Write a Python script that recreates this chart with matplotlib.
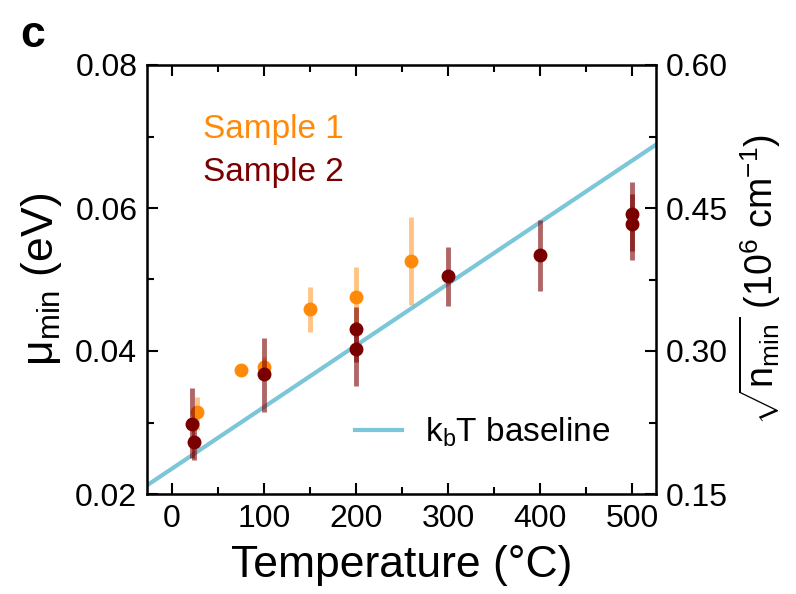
import numpy as np
import matplotlib
matplotlib.use("Agg")
import matplotlib.pyplot as plt
from matplotlib.ticker import MultipleLocator

plt.rcParams['font.family'] = ['Liberation Sans', 'DejaVu Sans']
plt.rcParams['mathtext.fontset'] = 'custom'
plt.rcParams['mathtext.rm'] = 'Liberation Sans'
plt.rcParams['mathtext.it'] = 'Liberation Sans'
plt.rcParams['mathtext.bf'] = 'Liberation Sans:bold'

# sample 1 (orange)
t1 = [27, 75, 100, 150, 200, 260]
mu1 = [0.0315, 0.0373, 0.0378, 0.0459, 0.0476, 0.0526]
lo1 = [0.0290, 0.0366, 0.0368, 0.0427, 0.0435, 0.0464]
hi1 = [0.0336, 0.0380, 0.0392, 0.0490, 0.0518, 0.0587]

# sample 2 (dark red)
t2 = [22, 24, 100, 200, 200, 300, 400, 500, 500]
mu2 = [0.0298, 0.0273, 0.0368, 0.0431, 0.0403, 0.0505, 0.0534, 0.0592, 0.0578]
lo2 = [0.0250, 0.0248, 0.0315, 0.0385, 0.0351, 0.0463, 0.0484, 0.0540, 0.0527]
hi2 = [0.0348, 0.0305, 0.0418, 0.0462, 0.0440, 0.0546, 0.0583, 0.0636, 0.0620]

kb = 8.617e-5
t_line = [-27, 526]

c1 = '#ff8a0a'
c2 = '#7a0000'
cline = '#7cc6d9'

fig = plt.figure(figsize=(7.96, 5.94), dpi=100)
ax = fig.add_axes([147 / 796, 1 - 494 / 594, (656 - 147) / 796, (494 - 65) / 594])

ax.plot(t_line, [kb * (t + 273.15) for t in t_line], color=cline, lw=3, label=r'k$_\mathregular{b}$T baseline', zorder=1)

ax.vlines(t1, lo1, hi1, color=c1, alpha=0.5, lw=3.5, zorder=2)
ax.plot(t1, mu1, 'o', color=c1, ms=9, zorder=3)
ax.vlines(t2, lo2, hi2, color=c2, alpha=0.6, lw=3.5, zorder=4)
ax.plot(t2, mu2, 'o', color=c2, ms=9, zorder=5)

ax.set_xlim(-27, 526)
ax.set_ylim(0.02, 0.08)
ax.xaxis.set_major_locator(MultipleLocator(100))
ax.xaxis.set_minor_locator(MultipleLocator(50))
ax.yaxis.set_major_locator(MultipleLocator(0.02))
ax.yaxis.set_minor_locator(MultipleLocator(0.01))
ax.tick_params(which='both', direction='in', top=True, labelsize=23, width=1.5, pad=7)
ax.tick_params(which='major', length=8)
ax.tick_params(which='minor', length=5)
ax.set_yticklabels(['%.2f' % v for v in ax.get_yticks()])
for s in ax.spines.values():
    s.set_linewidth(1.8)

ax.set_xlabel('Temperature (°C)', fontsize=32, labelpad=8)
ax.set_ylabel(r'μ$_\mathregular{min}$ (eV)', fontsize=32, labelpad=8)

ax2 = ax.twinx()
ax2.set_ylim(0.15, 0.60)
ax2.yaxis.set_major_locator(MultipleLocator(0.15))
ax2.yaxis.set_minor_locator(MultipleLocator(0.075))
ax2.tick_params(which='both', direction='in', labelsize=23, width=1.5, pad=7)
ax2.tick_params(which='major', length=8)
ax2.tick_params(which='minor', length=5)
ax2.set_yticklabels(['%.2f' % v for v in ax2.get_yticks()])
ax2.set_ylabel(r'$\sqrt{\mathregular{n_{min}}}$ (10$^\mathregular{6}$ cm$^\mathregular{-1}$)', fontsize=27, labelpad=6)

ax.text(0.11, 0.85, 'Sample 1', color=c1, fontsize=24, transform=ax.transAxes, va='center')
ax.text(0.11, 0.75, 'Sample 2', color=c2, fontsize=24, transform=ax.transAxes, va='center')
ax.legend(loc='lower right', bbox_to_anchor=(0.97, 0.035), frameon=False, fontsize=24,
          handlelength=1.4, handletextpad=0.7)

fig.text(0.025, 0.94, 'c', fontsize=32, fontweight='bold', va='center')

fig.savefig('out.png', dpi=100)
